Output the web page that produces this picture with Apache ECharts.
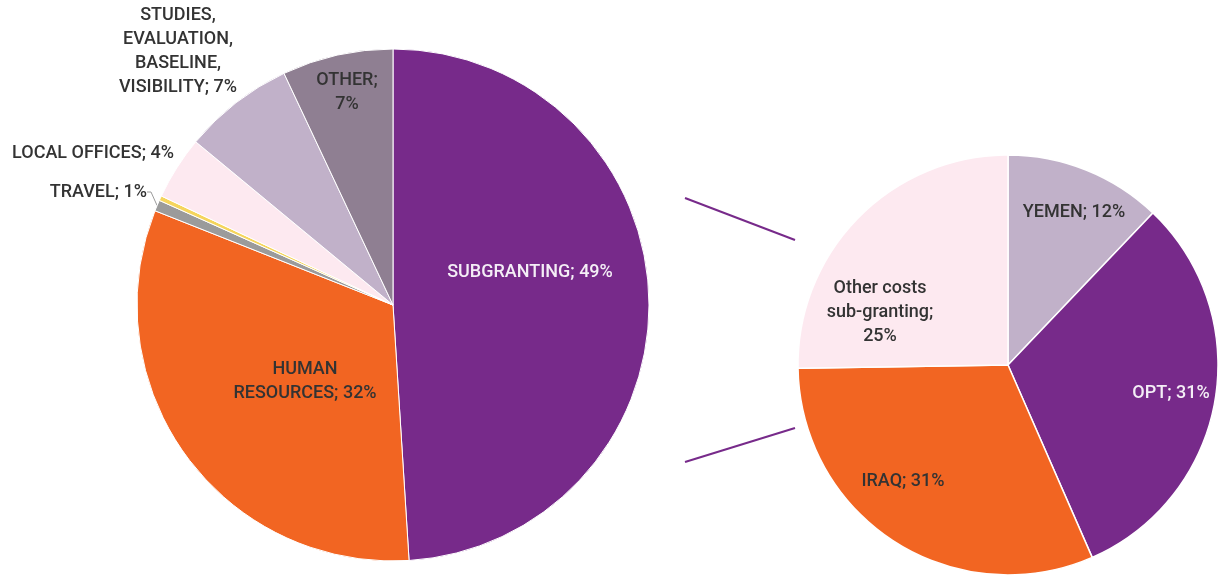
<!DOCTYPE html>
<html>
<head>
<meta charset="utf-8">
<script src="https://cdn.jsdelivr.net/npm/echarts@6/dist/echarts.min.js"></script>
<style>
html,body{margin:0;padding:0;background:#fff;}
#main{width:1218px;height:579px;}
</style>
</head>
<body>
<div id="main"></div>
<script>
// 总预算分配（左饼）
var budgetNames = ['SUBGRANTING', 'HUMAN\nRESOURCES', 'TRAVEL', '', 'LOCAL OFFICES', 'STUDIES,\nEVALUATION,\nBASELINE,\nVISIBILITY', 'OTHER;\n'];
var budgetValues = [49, 32, 0.7, 0.3, 4, 7, 7];
var budgetColors = ['#772a8a', '#f26522', '#9b9b9b', '#f5d55c', '#fde9f0', '#c1b1c9', '#8f7f92'];

// 分包国家（右饼）
var subNames = ['YEMEN', 'OPT', 'IRAQ', 'Other costs\nsub-granting;\n'];
var subValues = [12, 31, 31, 25];
var subColors = ['#c1b1c9', '#772a8a', '#f26522', '#fde9f0'];

// 标签位置
var leftLabelPos = [[530, 272], [305, 381], [147, 192], null, [93, 153], [178, 51], [347, 92]];
var rightLabelPos = [[1074, 212], [1171, 393], [903, 481], [880, 312]];

var font = 'Roboto, "DejaVu Sans", sans-serif';

function pct(name, v){
	var p = Math.round(v) + '%';
	if (name.charAt(name.length - 1) == '\n') return name + p;
	return name + '; ' + p;
}

var leftData = [];
for (var i = 0; i < budgetNames.length; i++) {
	var item = {name: budgetNames[i], value: budgetValues[i], itemStyle: {color: budgetColors[i]}};
	if (i == 0) item.label = {color: '#f4eef6'};
	if (i == 3) item.label = {show: false};
	if (i == 2) item.labelLine = {show: true};
	leftData.push(item);
}

var rightData = [];
for (var j = 0; j < subNames.length; j++) {
	var it = {name: subNames[j], value: subValues[j], itemStyle: {color: subColors[j]}};
	if (j == 1) it.label = {color: '#f4eef6'};
	rightData.push(it);
}

function layoutFor(pos){
	return function(p){
		var xy = pos[p.dataIndex];
		if (!xy) return;
		if (p.dataIndex == 2 && pos == leftLabelPos) return {x: xy[0], y: xy[1], align: 'right', verticalAlign: 'middle'};
		return {x: xy[0], y: xy[1], align: 'center', verticalAlign: 'middle'};
	};
}

var labelStyle = {
	position: 'outside',
	fontFamily: font,
	fontSize: 18,
	fontWeight: 500,
	lineHeight: 24,
	color: '#333',
	align: 'center',
	formatter: function(p){ return pct(p.name, p.value); }
};

var myChart = echarts.init(document.getElementById('main'));
var option = {
	animation: false,
	graphic: [
		{type: 'line', shape: {x1: 685, y1: 198, x2: 795, y2: 240}, style: {stroke: '#772a8a', lineWidth: 2}},
		{type: 'line', shape: {x1: 685, y1: 462, x2: 795, y2: 428}, style: {stroke: '#772a8a', lineWidth: 2}}
	],
	series: [{
		type: 'pie',
		center: [393, 305],
		radius: 256,
		startAngle: 90,
		clockwise: true,
		avoidLabelOverlap: false,
		itemStyle: {borderColor: '#fff', borderWidth: 1},
		label: labelStyle,
		labelLine: {show: false, length: 6, length2: 4, lineStyle: {color: '#9b9b9b', width: 1}},
		labelLayout: layoutFor(leftLabelPos),
		data: leftData
	}, {
		type: 'pie',
		center: [1008, 365],
		radius: 210,
		startAngle: 90,
		clockwise: true,
		avoidLabelOverlap: false,
		itemStyle: {borderColor: '#fff', borderWidth: 1.5},
		label: labelStyle,
		labelLine: {show: false},
		labelLayout: layoutFor(rightLabelPos),
		data: rightData
	}]
};
myChart.setOption(option);
</script>
</body>
</html>
